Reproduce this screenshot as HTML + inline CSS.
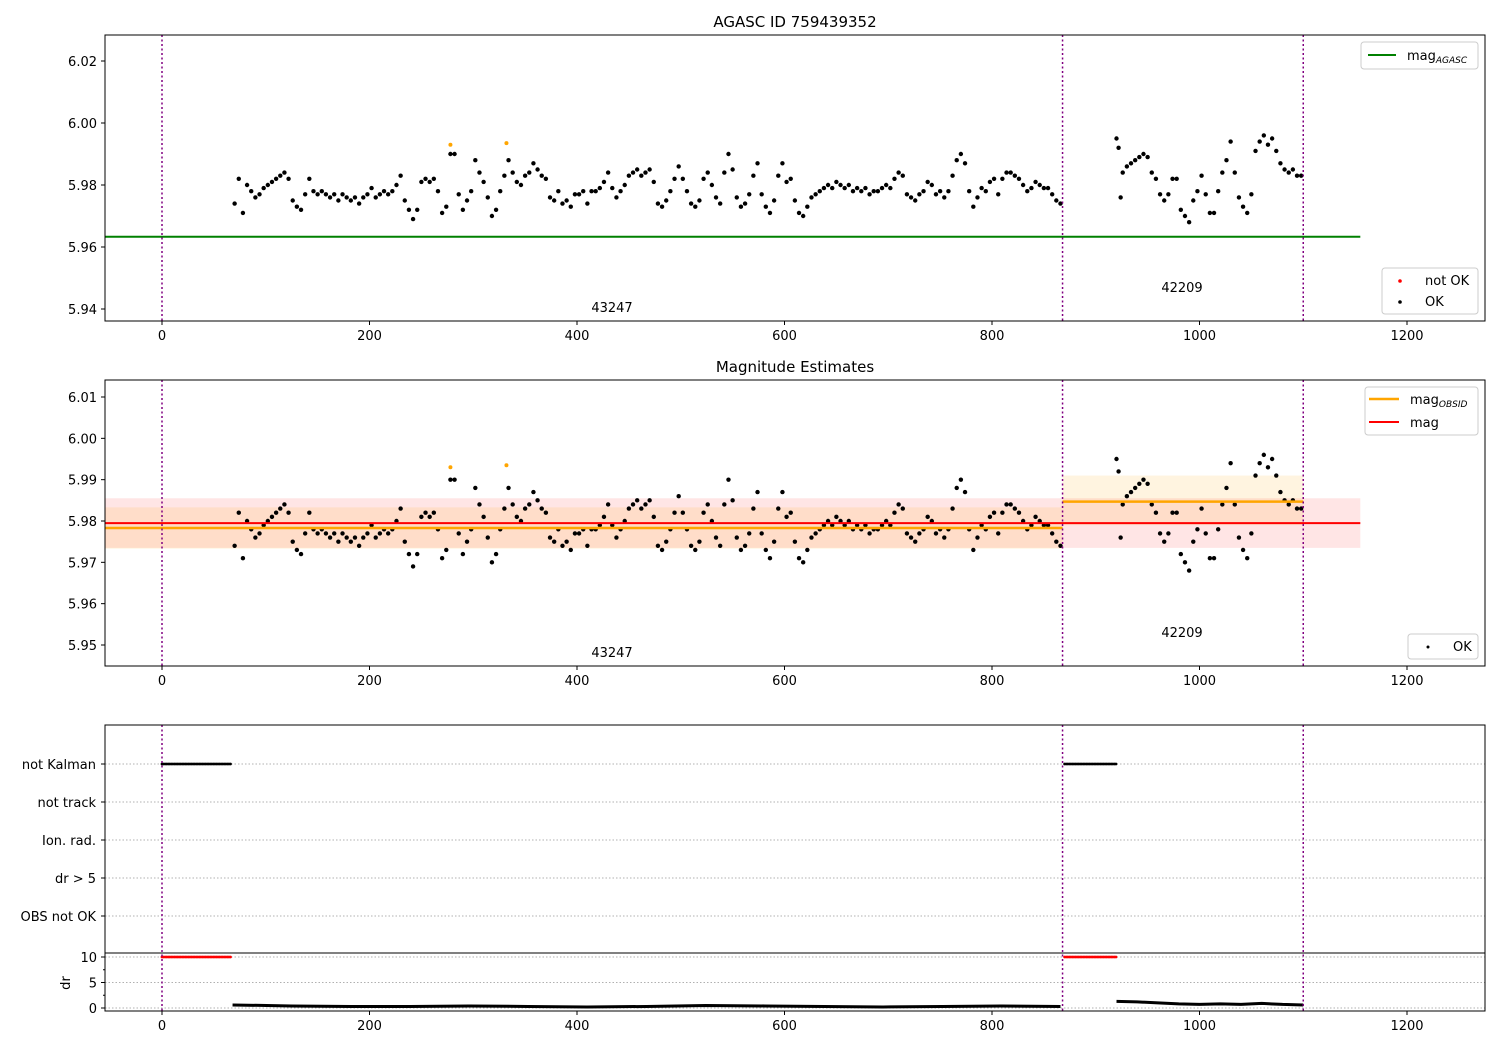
<!DOCTYPE html>
<html><head><meta charset="utf-8"><style>
body{margin:0;background:#fff}
svg{display:block;font-family:"DejaVu Sans","Liberation Sans",sans-serif}
</style></head><body>
<svg id="c" width="1500" height="1050" xmlns="http://www.w3.org/2000/svg"></svg>
<script>
const seg1T=[70,74,78,82,86,90,94,98,102,106,110,114,118,122,126,130,134,138,142,146,150,154,158,162,166,170,174,178,182,186,190,194,198,202,206,210,214,218,222,226,230,234,238,242,246,250,254,258,262,266,270,274,278,282,286,290,294,298,302,306,310,314,318,322,326,330,334,338,342,346,350,354,358,362,366,370,374,378,382,386,390,394,398,402,406,410,414,418,422,426,430,434,438,442,446,450,454,458,462,466,470,474,478,482,486,490,494,498,502,506,510,514,518,522,526,530,534,538,542,546,550,554,558,562,566,570,574,578,582,586,590,594,598,602,606,610,614,618,622,626,630,634,638,642,646,650,654,658,662,666,670,674,678,682,686,690,694,698,702,706,710,714,718,722,726,730,734,738,742,746,750,754,758,762,766,770,774,778,782,786,790,794,798,802,806,810,814,818,822,826,830,834,838,842,846,850,854,858,862,866];
const seg1Dev=[-6,2,-9,0,-2,-4,-3,-1,0,1,2,3,4,2,-5,-7,-8,-3,2,-2,-3,-2,-3,-4,-3,-5,-3,-4,-5,-4,-6,-4,-3,-1,-4,-3,-2,-3,-2,0,3,-5,-8,-11,-8,1,2,1,2,-2,-9,-7,10,10,-3,-8,-5,-2,8,4,1,-4,-10,-8,-2,3,8,4,1,0,3,4,7,5,3,2,-4,-5,-2,-6,-5,-7,-3,-3,-2,-6,-2,-2,-1,1,4,-1,-4,-2,0,3,4,5,3,4,5,1,-6,-7,-5,-2,2,6,2,-2,-6,-7,-5,2,4,0,-4,-6,4,10,5,-4,-7,-6,-3,3,7,-3,-7,-9,-5,3,7,1,2,-5,-9,-10,-7,-4,-3,-2,-1,0,-1,1,0,-1,0,-2,-1,-2,-1,-3,-2,-2,-1,0,-1,2,4,3,-3,-4,-5,-3,-2,1,0,-3,-2,-4,-2,3,8,10,7,-2,-7,-4,-1,-2,1,2,-3,2,4,4,3,2,0,-2,-1,1,0,-1,-1,-3,-5,-6];
const seg2T=[920,922,924,926,930,934,938,942,946,950,954,958,962,966,970,974,978,982,986,990,994,998,1002,1006,1010,1014,1018,1022,1026,1030,1034,1038,1042,1046,1050,1054,1058,1062,1066,1070,1074,1078,1082,1086,1090,1094,1098];
const seg2Dev=[15,12,-4,4,6,7,8,9,10,9,4,2,-3,-5,-3,2,2,-8,-10,-12,-5,-2,3,-3,-9,-9,-2,4,8,14,4,-4,-7,-9,-3,11,14,16,13,15,11,7,5,4,5,3,3];
const notOkT=[278,332];
const notOkMag=[5.993,5.9935];
const obsBounds=[0,868,1100];
const obsIds=["43247","42209"];
const obsMag=[5.9783,5.9847];
const obsLo=[5.9733,5.9790];
const obsHi=[5.9833,5.9910];
const magMean=5.9795, magLo=5.9735, magHi=5.9855, magAgasc=5.9633;
const flagT1=[0,66], flagT2=[870,920];
const drSeg1=[0.6,0.4,0.3,0.3,0.4,0.3,0.2,0.3,0.5,0.4,0.3,0.2,0.3,0.4,0.3];
const drSeg2=[1.3,1.2,1.0,0.8,0.7,0.8,0.7,0.9,0.7,0.6];
const xTicks=[0,200,400,600,800,1000,1200];
const flagCats=["not Kalman","not track","Ion. rad.","dr > 5","OBS not OK"];

const S=document.getElementById('c');const NS='http://www.w3.org/2000/svg';
function el(t,a,p){const e=document.createElementNS(NS,t);for(const k in a)e.setAttribute(k,a[k]);(p||S).appendChild(e);return e;}
const X=t=>162+t*1.0375;
const L=105,R=1485;
const Y1=m=>185+(5.98-m)*3100;
const Y2=m=>521+(5.98-m)*4133;
const YF=i=>764+i*38;
const YD=d=>1008-d*5.1;
const FS=13;
const mags=[];seg1T.forEach((t,i)=>mags.push([t,5.98+seg1Dev[i]/1000]));seg2T.forEach((t,i)=>mags.push([t,5.98+seg2Dev[i]/1000]));

function frame(top,bot,name){const r=el('rect',{x:L,y:top,width:R-L,height:bot-top,fill:'none',stroke:'#000','stroke-width':1});
}
function xAxis(bot,name){const g=el('g',{});
xTicks.forEach(v=>{el('line',{x1:X(v),x2:X(v),y1:bot,y2:bot+4,stroke:'#000'},g);const t=el('text',{x:X(v),y:bot+19,'font-size':FS,'text-anchor':'middle'},g);t.textContent=v;});}
function yTick(y,label,g,x){el('line',{x1:L-4,x2:L,y1:y,y2:y,stroke:'#000'},g);const t=el('text',{x:x||L-8,y:y+5,'font-size':FS,'text-anchor':'end'},g);t.textContent=label;}
function vlines(top,bot){obsBounds.forEach(v=>{const l=el('line',{x1:X(v),x2:X(v),y1:top,y2:bot,stroke:'#800080','stroke-width':1.5,'stroke-dasharray':'2,2.5'});
});}
function title(x,y,s,name){const t=el('text',{x:x,y:y,'font-size':15,'text-anchor':'middle'});t.textContent=s;}

// Panel 1
title(795,27,'AGASC ID 759439352','panel1-title');
let g=el('g',{});
[6.02,6.00,5.98,5.96,5.94].forEach(v=>yTick(Y1(v),v.toFixed(2),g));
let ag=el('line',{x1:L,x2:X(1155),y1:Y1(magAgasc),y2:Y1(magAgasc),stroke:'green','stroke-width':2});

mags.forEach(([t,m])=>{const c=el('circle',{cx:X(t),cy:Y1(m),r:2.2,fill:'#000'});
});
notOkT.forEach((t,i)=>{const c=el('circle',{cx:X(t),cy:Y1(notOkMag[i]),r:2,fill:'orange'});
});
vlines(35,321);frame(35,321,'panel1-frame');xAxis(321,'panel1-x-axis');
[[612,307],[1182,287]].forEach((p,i)=>{const t=el('text',{x:p[0],y:p[1]+5,'font-size':FS,'text-anchor':'middle'});t.textContent=obsIds[i];});
g=el('g',{});
el('rect',{x:1361,y:42,width:117,height:27,rx:3,fill:'#fff',stroke:'#ccc'},g);
el('line',{x1:1368,x2:1396,y1:55,y2:55,stroke:'green','stroke-width':2},g);
let t=el('text',{x:1407,y:60,'font-size':FS},g);t.innerHTML='mag<tspan font-size="9" font-style="italic" dy="3">AGASC</tspan>';
g=el('g',{});
el('rect',{x:1382,y:268,width:96,height:46,rx:3,fill:'#fff',stroke:'#ccc'},g);
el('circle',{cx:1400,cy:281,r:1.8,fill:'red'},g);el('circle',{cx:1400,cy:302,r:1.8,fill:'#000'},g);
t=el('text',{x:1425,y:285,'font-size':FS},g);t.textContent='not OK';t=el('text',{x:1425,y:306,'font-size':FS},g);t.textContent='OK';

// Panel 2
title(795,372,'Magnitude Estimates','panel2-title');
g=el('g',{});
[6.01,6.00,5.99,5.98,5.97,5.96,5.95].forEach(v=>yTick(Y2(v),v.toFixed(2),g));
let b=el('rect',{x:L,y:Y2(magHi),width:X(1155)-L,height:Y2(magLo)-Y2(magHi),fill:'red','fill-opacity':0.1});

const obsX0=[L,X(obsBounds[1])],obsX1=[X(obsBounds[1]),X(obsBounds[2])];
obsIds.forEach((id,i)=>{const r=el('rect',{x:obsX0[i],y:Y2(obsHi[i]),width:obsX1[i]-obsX0[i],height:Y2(obsLo[i])-Y2(obsHi[i]),fill:'orange','fill-opacity':0.12});
});
mags.forEach(([t,m])=>{const c=el('circle',{cx:X(t),cy:Y2(m),r:2.2,fill:'#000'});
});
notOkT.forEach((t,i)=>{const c=el('circle',{cx:X(t),cy:Y2(notOkMag[i]),r:2,fill:'orange'});
});
obsIds.forEach((id,i)=>{const l=el('line',{x1:obsX0[i],x2:obsX1[i],y1:Y2(obsMag[i]),y2:Y2(obsMag[i]),stroke:'orange','stroke-width':2.5});
});
let ml=el('line',{x1:L,x2:X(1155),y1:Y2(magMean),y2:Y2(magMean),stroke:'red','stroke-width':2});

vlines(380,666);frame(380,666,'panel2-frame');xAxis(666,'panel2-x-axis');
[[612,652],[1182,632]].forEach((p,i)=>{const t=el('text',{x:p[0],y:p[1]+5,'font-size':FS,'text-anchor':'middle'});t.textContent=obsIds[i];});
g=el('g',{});
el('rect',{x:1365,y:387,width:113,height:48,rx:3,fill:'#fff',stroke:'#ccc'},g);
el('line',{x1:1369,x2:1399,y1:399,y2:399,stroke:'orange','stroke-width':2.5},g);
el('line',{x1:1369,x2:1399,y1:422,y2:422,stroke:'red','stroke-width':2},g);
t=el('text',{x:1410,y:404,'font-size':FS},g);t.innerHTML='mag<tspan font-size="9" font-style="italic" dy="3">OBSID</tspan>';
t=el('text',{x:1410,y:427,'font-size':FS},g);t.textContent='mag';
g=el('g',{});
el('rect',{x:1408,y:634,width:70,height:25,rx:3,fill:'#fff',stroke:'#ccc'},g);
el('circle',{cx:1428,cy:647,r:1.5,fill:'#000'},g);t=el('text',{x:1453,y:651,'font-size':FS},g);t.textContent='OK';

// Panel 3 flags
g=el('g',{});
flagCats.forEach((c,i)=>{el('line',{x1:L,x2:R,y1:YF(i),y2:YF(i),stroke:'#b0b0b0','stroke-dasharray':'1.5,2'},g);yTick(YF(i),c,g,L-9);});
function flagRun(a,b,y,color,name){for(let t=a;t<=b;t+=1.5){const c=el('circle',{cx:X(t),cy:y,r:1.4,fill:color});
}}
flagRun(flagT1[0],flagT1[1],YF(0),'#000','not-kalman-flag');flagRun(flagT2[0],flagT2[1],YF(0),'#000','not-kalman-flag');
g=el('g',{});
[10,5,0].forEach(v=>{el('line',{x1:L,x2:R,y1:YD(v),y2:YD(v),stroke:'#b0b0b0','stroke-dasharray':'1.5,2'},g);yTick(YD(v),v,g);});
[7.5,2.5].forEach(v=>el('line',{x1:L-2,x2:L,y1:YD(v),y2:YD(v),stroke:'#000'},g));
t=el('text',{x:70,y:983,'font-size':FS,'text-anchor':'middle',transform:'rotate(-90 70 983)'},g);t.textContent='dr';
flagRun(flagT1[0],flagT1[1],YD(10),'red','dr-clipped');flagRun(flagT2[0],flagT2[1],YD(10),'red','dr-clipped');
function drLine(vals,a,b){const step=(b-a)/(vals.length-1);const p=el('polyline',{points:vals.map((v,i)=>X(a+i*step)+','+YD(v)).join(' '),fill:'none',stroke:'#000','stroke-width':3});
}
drLine(drSeg1,68,866);drLine(drSeg2,920,1100);
vlines(725,1011);
frame(725,1011,'flags-frame');el('line',{x1:L,x2:R,y1:953,y2:953,stroke:'#000'});
xAxis(1011,'flags-x-axis');
</script>
</body></html>
